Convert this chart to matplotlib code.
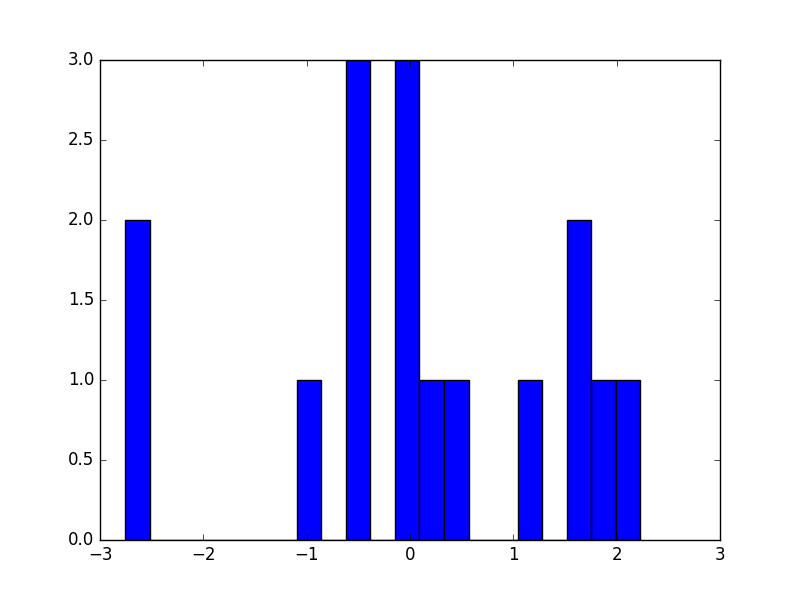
import matplotlib
matplotlib.use('Agg')
import matplotlib.pyplot as plt
import numpy as np

# histogram: 21 equal bins
bin_lo = -2.758
bin_hi = 2.229
n_bins = 21
counts = [2, 0, 0, 0, 0, 0, 0, 1, 0, 3, 0, 3, 1, 1, 0, 0, 1, 0, 2, 1, 1]

plt.style.use('classic')

edges = np.linspace(bin_lo, bin_hi, n_bins + 1)
centers = (edges[:-1] + edges[1:]) / 2

fig = plt.figure(figsize=(8, 6), dpi=100)
ax = fig.add_subplot(111)
ax.hist(centers, bins=edges, weights=counts, color='blue', edgecolor='black')
ax.set_xlim(-3, 3)
ax.set_ylim(0, 3)

fig.savefig('out.png', dpi=100)
